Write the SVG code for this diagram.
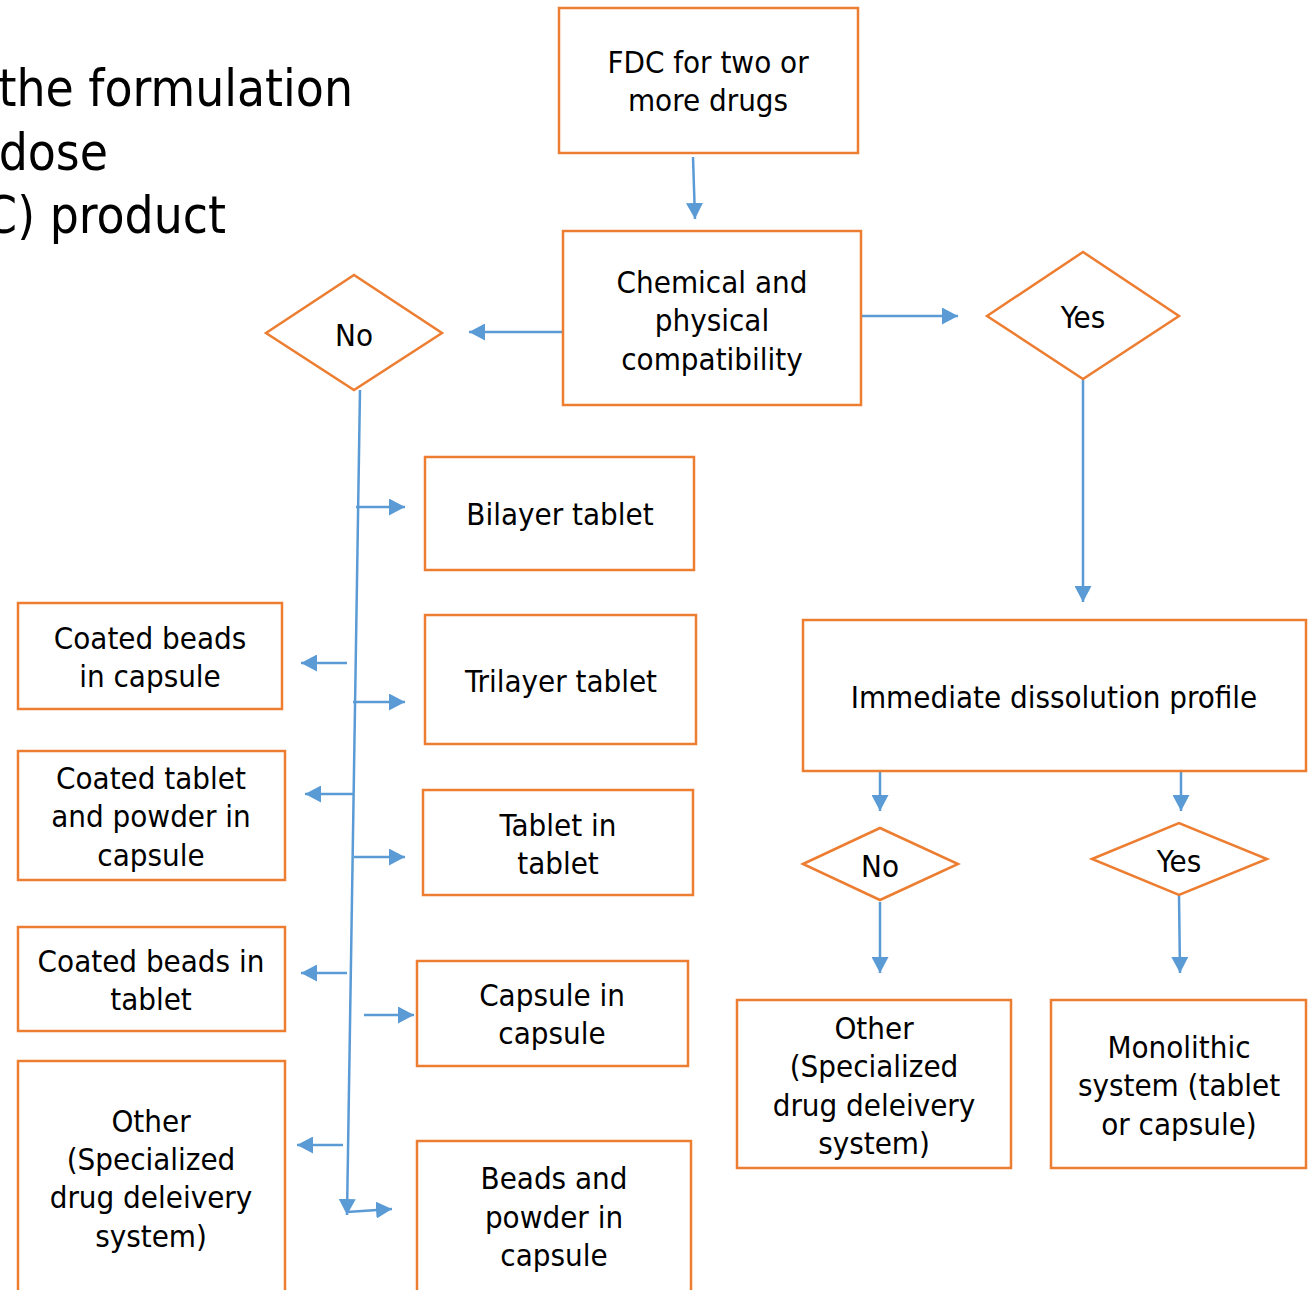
<svg xmlns="http://www.w3.org/2000/svg" width="1311" height="1290" viewBox="0 0 1311 1290">
<style>
.box{fill:#fff;stroke:#ED7D31;stroke-width:2.5}
.t{font-family:"DejaVu Sans Condensed","DejaVu Sans",sans-serif;font-size:31px;fill:#000;text-anchor:middle}
.title{font-family:"DejaVu Sans Condensed","DejaVu Sans",sans-serif;font-size:51px;fill:#000;text-anchor:end}
.c{fill:none;stroke:#5B9BD5;stroke-width:2.5;marker-end:url(#ah)}
</style>
<defs>
<marker id="ah" markerUnits="userSpaceOnUse" markerWidth="17" markerHeight="17" viewBox="0 0 17 17" refX="16" refY="8.5" orient="auto">
<path d="M0,0 L16,8.5 L0,17 Z" fill="#5B9BD5"/>
</marker>
</defs>
<rect width="1311" height="1290" fill="#fff"/>
<g id="title">
<text class="title" x="353" y="106">the formulation</text>
<text class="title" x="108" y="170">dose</text>
<text class="title" x="226" y="233">C) product</text>
</g>
<g id="connectors">
<path class="c" d="M693,157 L695,219"/>
<path class="c" d="M563,332 L469,332"/>
<path class="c" d="M861,316 L958,316"/>
<path class="c" d="M1083,379 L1083,602"/>
<path class="c" d="M880,771 L880,811"/>
<path class="c" d="M1181,771 L1181,811"/>
<path class="c" d="M880,902 L880,973"/>
<path class="c" d="M1179,895 L1180,973"/>
<path class="c" d="M360,390 L347,1215"/>
<path class="c" d="M356,507 L405,507"/>
<path class="c" d="M353,702 L405,702"/>
<path class="c" d="M354,857 L405,857"/>
<path class="c" d="M364,1015 L414,1015"/>
<path class="c" d="M347,1212 L392,1209"/>
<path class="c" d="M347,663 L301,663"/>
<path class="c" d="M353,794 L305,794"/>
<path class="c" d="M347,973 L301,973"/>
<path class="c" d="M343,1145 L297,1145"/>
</g>
<g id="n-fdc"><rect class="box" x="559" y="8" width="299" height="145"/><text class="t" x="708" y="73">FDC for two or</text><text class="t" x="708" y="111">more drugs</text></g>
<g id="n-chem"><rect class="box" x="563" y="231" width="298" height="174"/><text class="t" x="712" y="293">Chemical and</text><text class="t" x="712" y="331">physical</text><text class="t" x="712" y="370">compatibility</text></g>
<g id="n-no1"><polygon class="box" points="266,333 354,275 442,333 354,390"/><text class="t" x="354" y="346">No</text></g>
<g id="n-yes1"><polygon class="box" points="987,316 1083,252 1179,316 1083,379"/><text class="t" x="1083" y="328">Yes</text></g>
<g id="n-bilayer"><rect class="box" x="425" y="457" width="269" height="113"/><text class="t" x="560" y="525">Bilayer tablet</text></g>
<g id="n-trilayer"><rect class="box" x="425" y="615" width="271" height="129"/><text class="t" x="561" y="692">Trilayer tablet</text></g>
<g id="n-tit"><rect class="box" x="423" y="790" width="270" height="105"/><text class="t" x="558" y="836">Tablet in</text><text class="t" x="558" y="874">tablet</text></g>
<g id="n-cic"><rect class="box" x="417" y="961" width="271" height="105"/><text class="t" x="552" y="1006">Capsule in</text><text class="t" x="552" y="1044">capsule</text></g>
<g id="n-bpc"><path class="box" d="M417,1292 L417,1141 L691,1141 L691,1292"/><text class="t" x="554" y="1189">Beads and</text><text class="t" x="554" y="1228">powder in</text><text class="t" x="554" y="1266">capsule</text></g>
<g id="n-cbc"><rect class="box" x="18" y="603" width="264" height="106"/><text class="t" x="150" y="649">Coated beads</text><text class="t" x="150" y="687">in capsule</text></g>
<g id="n-ctp"><rect class="box" x="18" y="751" width="267" height="129"/><text class="t" x="151" y="789">Coated tablet</text><text class="t" x="151" y="827">and powder in</text><text class="t" x="151" y="866">capsule</text></g>
<g id="n-cbt"><rect class="box" x="18" y="927" width="267" height="104"/><text class="t" x="151" y="972">Coated beads in</text><text class="t" x="151" y="1010">tablet</text></g>
<g id="n-other1"><path class="box" d="M18,1292 L18,1061 L285,1061 L285,1292"/><text class="t" x="151" y="1132">Other</text><text class="t" x="151" y="1170">(Specialized</text><text class="t" x="151" y="1208">drug deleivery</text><text class="t" x="151" y="1247">system)</text></g>
<g id="n-idp"><rect class="box" x="803" y="620" width="503" height="151"/><text class="t" x="1054" y="708">Immediate dissolution profile</text></g>
<g id="n-no2"><polygon class="box" points="803,864 880,828 958,864 880,900"/><text class="t" x="880" y="877">No</text></g>
<g id="n-yes2"><polygon class="box" points="1092,859 1179,823 1267,859 1179,895"/><text class="t" x="1179" y="872">Yes</text></g>
<g id="n-other2"><rect class="box" x="737" y="1000" width="274" height="168"/><text class="t" x="874" y="1039">Other</text><text class="t" x="874" y="1077">(Specialized</text><text class="t" x="874" y="1116">drug deleivery</text><text class="t" x="874" y="1154">system)</text></g>
<g id="n-mono"><rect class="box" x="1051" y="1000" width="255" height="168"/><text class="t" x="1179" y="1058">Monolithic</text><text class="t" x="1179" y="1096">system (tablet</text><text class="t" x="1179" y="1135">or capsule)</text></g>
</svg>
